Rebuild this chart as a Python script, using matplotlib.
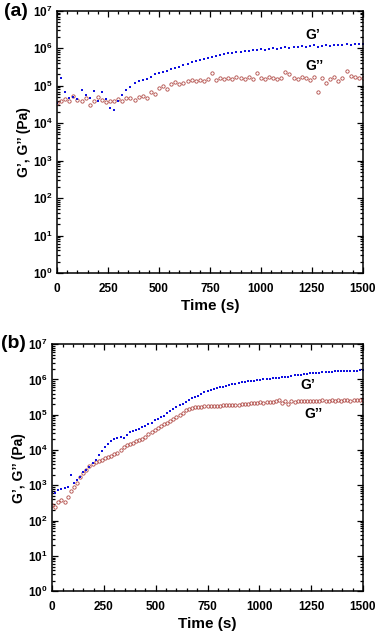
import numpy as np
import matplotlib
matplotlib.use("Agg")
import matplotlib.pyplot as plt
from matplotlib.ticker import FixedLocator, MultipleLocator, LogLocator, FuncFormatter, NullFormatter

plt.rcParams['font.family'] = ['Liberation Sans', 'DejaVu Sans']
plt.rcParams['font.weight'] = 'bold'
plt.rcParams['mathtext.fontset'] = 'custom'
plt.rcParams['mathtext.rm'] = 'Liberation Sans:bold'
plt.rcParams['mathtext.bf'] = 'Liberation Sans:bold'

# ---- panel (a) data, sampled every 20 s ----
t_a = [0, 20, 40, 60, 80, 100, 120, 140, 160, 180, 200, 220, 240, 260, 280, 300,
       320, 340, 360, 380, 400, 420, 440, 460, 480, 500, 520, 540, 560, 580, 600,
       620, 640, 660, 680, 700, 720, 740, 760, 780, 800, 820, 840, 860, 880, 900,
       920, 940, 960, 980, 1000, 1020, 1040, 1060, 1080, 1100, 1120, 1140, 1160,
       1180, 1200, 1220, 1240, 1260, 1280, 1300, 1320, 1340, 1360, 1380, 1400,
       1420, 1440, 1460, 1480, 1500]
gp_a = [3.5e4, 1.6e5, 7.0e4, 4.6e4, 5.0e4, 4.4e4, 7.5e4, 5.8e4, 4.6e4, 7.4e4, 4.0e4,
        7.0e4, 4.4e4, 2.6e4, 2.3e4, 3.8e4, 5.5e4, 7.8e4, 9.0e4, 1.15e5, 1.3e5, 1.4e5,
        1.55e5, 1.75e5, 2.0e5, 2.2e5, 2.3e5, 2.5e5, 2.8e5, 3.0e5, 3.2e5, 3.5e5, 3.8e5,
        4.3e5, 4.6e5, 4.9e5, 5.2e5, 5.5e5, 6.0e5, 6.4e5, 6.8e5, 7.2e5, 7.5e5, 7.6e5,
        7.9e5, 8.0e5, 8.2e5, 8.6e5, 8.8e5, 9.0e5, 9.3e5, 9.2e5, 9.6e5, 1.0e6, 9.8e5,
        1.02e6, 1.05e6, 1.0e6, 1.08e6, 1.1e6, 1.12e6, 1.05e6, 1.15e6, 1.2e6, 1.1e6,
        1.18e6, 1.2e6, 1.15e6, 1.22e6, 1.25e6, 1.2e6, 1.27e6, 1.25e6, 1.3e6, 1.28e6,
        1.3e6]
gpp_a = [3.5e4, 3.8e4, 4.5e4, 4.0e4, 5.2e4, 4.2e4, 3.8e4, 4.6e4, 3.1e4, 4.0e4, 5.0e4,
         4.2e4, 3.6e4, 4.0e4, 3.9e4, 4.3e4, 3.8e4, 4.6e4, 4.8e4, 4.2e4, 5.0e4, 5.4e4,
         4.7e4, 6.8e4, 6.0e4, 8.5e4, 1.0e5, 8.0e4, 1.1e5, 1.25e5, 1.1e5, 1.2e5, 1.35e5,
         1.4e5, 1.3e5, 1.45e5, 1.35e5, 1.5e5, 2.2e5, 1.4e5, 1.6e5, 1.5e5, 1.65e5, 1.55e5,
         1.7e5, 1.6e5, 1.55e5, 1.7e5, 1.5e5, 2.2e5, 1.6e5, 1.55e5, 1.7e5, 1.6e5, 1.5e5,
         1.65e5, 2.3e5, 2.0e5, 1.6e5, 1.55e5, 1.75e5, 1.6e5, 1.45e5, 1.7e5, 7.0e4,
         1.6e5, 1.2e5, 1.55e5, 1.7e5, 1.3e5, 1.6e5, 2.4e5, 1.8e5, 1.7e5, 1.65e5, 1.6e5]

# ---- panel (b) data, sampled every 15 s ----
t_b = [0, 15, 30, 45, 60, 75, 90, 105, 120, 135, 150, 165, 180, 195, 210, 225, 240,
       255, 270, 285, 300, 315, 330, 345, 360, 375, 390, 405, 420, 435, 450, 465, 480,
       495, 510, 525, 540, 555, 570, 585, 600, 615, 630, 645, 660, 675, 690, 705, 720,
       735, 750, 765, 780, 795, 810, 825, 840, 855, 870, 885, 900, 915, 930, 945, 960,
       975, 990, 1005, 1020, 1035, 1050, 1065, 1080, 1095, 1110, 1125, 1140, 1155,
       1170, 1185, 1200, 1215, 1230, 1245, 1260, 1275, 1290, 1305, 1320, 1335, 1350,
       1365, 1380, 1395, 1410, 1425, 1440, 1455, 1470, 1485, 1500]
gp_b = [660, 620, 740, 780, 850, 920, 1900, 1150, 1400, 1700, 2400, 2700, 3300, 4300,
        5300, 7000, 9500, 1.2e4, 1.5e4, 1.8e4, 2.0e4, 2.2e4, 2.3e4, 2.2e4, 2.6e4, 3.2e4,
        3.4e4, 3.7e4, 4.0e4, 4.4e4, 4.9e4, 5.4e4, 6.0e4, 7.0e4, 7.8e4, 8.5e4, 9.5e4,
        1.1e5, 1.3e5, 1.45e5, 1.65e5, 1.85e5, 2.0e5, 2.3e5, 2.6e5, 2.9e5, 3.2e5, 3.5e5,
        3.9e5, 4.3e5, 4.7e5, 5.0e5, 5.3e5, 5.6e5, 6.0e5, 6.3e5, 6.6e5, 6.9e5, 7.2e5,
        7.5e5, 7.9e5, 8.2e5, 8.5e5, 8.8e5, 9.0e5, 9.3e5, 9.5e5, 9.7e5, 1.0e6, 1.03e6,
        1.05e6, 1.08e6, 1.1e6, 1.13e6, 1.16e6, 1.18e6, 1.2e6, 1.26e6, 1.31e6, 1.35e6,
        1.38e6, 1.42e6, 1.46e6, 1.5e6, 1.52e6, 1.55e6, 1.57e6, 1.6e6, 1.63e6, 1.65e6,
        1.67e6, 1.69e6, 1.7e6, 1.72e6, 1.73e6, 1.75e6, 1.76e6, 1.78e6, 1.79e6, 1.81e6,
        1.82e6]
gpp_b = [275, 250, 330, 380, 340, 480, 700, 900, 1200, 1700, 2200, 2800, 3500, 4000,
         4500, 5000, 5300, 5800, 6300, 6800, 7500, 8500, 1.0e4, 1.2e4, 1.35e4, 1.5e4,
         1.6e4, 1.75e4, 1.9e4, 2.1e4, 2.4e4, 2.8e4, 3.2e4, 3.8e4, 4.3e4, 4.8e4, 5.3e4,
         5.8e4, 6.5e4, 7.5e4, 8.5e4, 1.0e5, 1.15e5, 1.35e5, 1.5e5, 1.6e5, 1.65e5, 1.68e5,
         1.7e5, 1.72e5, 1.74e5, 1.76e5, 1.78e5, 1.8e5, 1.82e5, 1.84e5, 1.86e5, 1.88e5,
         1.9e5, 1.92e5, 1.95e5, 1.97e5, 2.0e5, 2.05e5, 2.1e5, 2.15e5, 2.2e5, 2.25e5,
         2.2e5, 2.3e5, 2.35e5, 2.3e5, 2.4e5, 2.6e5, 2.2e5, 2.5e5, 2.0e5, 2.4e5, 2.3e5,
         2.4e5, 2.45e5, 2.4e5, 2.5e5, 2.45e5, 2.5e5, 2.45e5, 2.5e5, 2.55e5, 2.5e5,
         2.45e5, 2.55e5, 2.5e5, 2.55e5, 2.5e5, 2.6e5, 2.55e5, 2.5e5, 2.6e5, 2.55e5,
         2.6e5, 2.55e5]

xticks = [0, 250, 500, 750, 1000, 1250, 1500]

blue = '#1010e0'
red = '#b04a45'

fig = plt.figure(figsize=(3.78, 6.35), dpi=100)
ax_a = fig.add_axes([0.151, 0.570, 0.809, 0.413])
ax_b = fig.add_axes([0.138, 0.069, 0.822, 0.389])

panels = [(ax_a, t_a, gp_a, gpp_a, (1255, 2.2e6), (1260, 3.4e5)),
          (ax_b, t_b, gp_b, gpp_b, (1235, 7.0e5), (1260, 1.05e5))]

for ax, t, gp, gpp, pos1, pos2 in panels:
    ax.plot(t, gpp, 'o', ms=2.4, mfc='none', mec=red, mew=0.6)
    ax.plot(t, gp, 's', ms=2.0, color=blue, mew=0)
    ax.set_yscale('log')
    ax.set_ylim(1, 1e7)
    ax.set_xlim(0, 1500)
    ax.xaxis.set_major_locator(FixedLocator(xticks))
    ax.xaxis.set_minor_locator(MultipleLocator(50))
    ax.yaxis.set_major_locator(LogLocator(base=10, numticks=10))
    ax.yaxis.set_minor_locator(LogLocator(base=10, subs=np.arange(2, 10), numticks=20))
    ax.yaxis.set_minor_formatter(NullFormatter())
    ax.yaxis.set_major_formatter(FuncFormatter(lambda v, p: r'$\mathbf{10^{%d}}$' % round(np.log10(v))))
    ax.tick_params(which='both', direction='in', top=True, right=True, width=0.9)
    ax.tick_params(which='major', length=4, labelsize=8.5)
    ax.tick_params(axis='x', which='major', pad=7)
    ax.tick_params(which='minor', length=2)
    for s in ax.spines.values():
        s.set_linewidth(1.1)
    ax.set_xlabel('Time (s)', fontsize=11, fontweight='bold', labelpad=3)
    ax.set_ylabel('G’, G’’ (Pa)', fontsize=10, fontweight='bold', labelpad=1)
    ax.text(pos1[0], pos1[1], 'G’', fontsize=10, fontweight='bold', ha='center', va='center')
    ax.text(pos2[0], pos2[1], 'G’’', fontsize=10, fontweight='bold', ha='center', va='center')

fig.text(0.042, 0.982, '(a)', fontsize=14, fontweight='bold', ha='center', va='center')
fig.text(0.035, 0.459, '(b)', fontsize=14, fontweight='bold', ha='center', va='center')

fig.savefig('out.png', dpi=100)
